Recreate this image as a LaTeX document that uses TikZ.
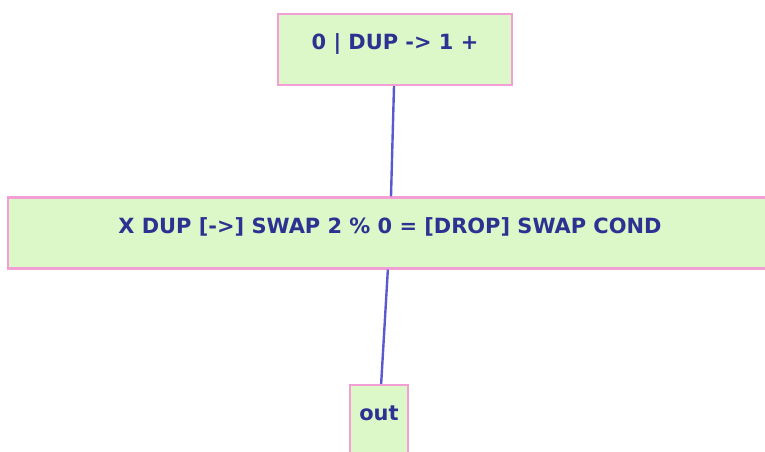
\documentclass[tikz,border=0pt]{standalone}
\usepackage{fontspec}
\setmainfont{DejaVu Sans}
\definecolor{boxfill}{HTML}{DCF8C8}
\definecolor{boxdraw}{HTML}{F49ED6}
\definecolor{txt}{HTML}{2E3192}
\definecolor{edgec}{HTML}{5A5ACF}
\begin{document}
\begin{tikzpicture}[x=0.75pt,y=-0.75pt,
  box/.style={draw=boxdraw,fill=boxfill,line width=1.6pt,rectangle,
    inner xsep=0pt,inner ysep=0pt,text height=36*0.75pt,text depth=35*0.75pt,
    font=\fontsize{15.7pt}{18pt}\selectfont\bfseries,text=txt,anchor=center},
  conn/.style={draw=edgec,line width=1.8pt}]
\useasboundingbox (0,0) rectangle (765,452);
\clip (0,0) rectangle (765,452);
\node[box,minimum width=234*0.75pt] (top) at (395,49.5) {0 | DUP -> 1 +};
\node[box,minimum width=764*0.75pt] (mid) at (390,233) {X DUP [->] SWAP 2 \% 0 = [DROP] SWAP COND};
\node[box,minimum width=58*0.75pt] (out) at (379,420.5) {out};
\draw[conn] (top) -- (mid);
\draw[conn] (mid) -- (out);
\end{tikzpicture}
\end{document}
